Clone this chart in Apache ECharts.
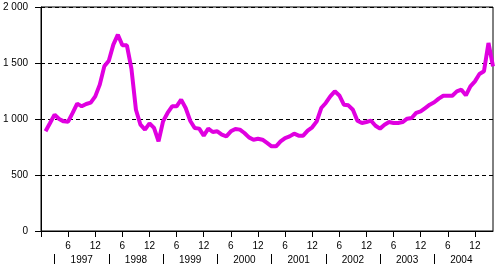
<!DOCTYPE html>
<html>
<head>
<meta charset="utf-8">
<script src="https://cdn.jsdelivr.net/npm/echarts@6/dist/echarts.min.js"></script>
<style>
html,body{margin:0;padding:0;background:#fff;}
#chart{width:495px;height:266px;}
</style>
</head>
<body>
<div id="chart"></div>
<script>
// Monthly values, Jan 1997 .. Apr 2005
const values = [
  890, 964, 1039, 1000, 979, 976, 1054, 1137, 1113, 1134, 1146, 1202,   // 1997
  1307, 1470, 1520, 1664, 1753, 1658, 1658, 1450, 1083, 949, 905, 961,   // 1998
  920, 800, 979, 1054, 1113, 1113, 1173, 1098, 985, 920, 914, 851,       // 1999
  914, 884, 890, 860, 845, 890, 911, 905, 875, 836, 815, 824,            // 2000
  815, 786, 756, 756, 800, 830, 845, 869, 851, 851, 896, 926,            // 2001
  979, 1098, 1143, 1202, 1247, 1210, 1128, 1122, 1083, 985, 964, 973,    // 2002
  985, 940, 914, 949, 973, 964, 964, 973, 1003, 1009, 1054, 1068,        // 2003
  1098, 1128, 1149, 1182, 1208, 1208, 1208, 1247, 1262, 1211, 1292, 1336, // 2004
  1402, 1426, 1679, 1470                                                  // 2005
];
const years = ['1997','1998','1999','2000','2001','2002','2003','2004'];
const monthTickLabels = ['6','12'];

const seriesData = values.map((v, i) => [i + 1, v]);
const monthTicks = [];
for (let m = 0; m <= 96; m += 6) monthTicks.push(m);
const monthLabels = monthTicks.filter(m => m > 0);
const yearSeps = years.map((y, i) => 3 + 12 * i);
const yearCenters = years.map((y, i) => 9 + 12 * i);

const font = 'Liberation Sans';
const chart = echarts.init(document.getElementById('chart'), null, {renderer: 'canvas'});
chart.setOption({
  animation: false,
  backgroundColor: '#fff',
  grid: {left: 40, right: 2, top: 7, bottom: 35, show: true, borderColor: '#000', borderWidth: 1, backgroundColor: 'transparent'},
  xAxis: [
    {
      type: 'value', min: 0, max: 100,
      axisLine: {show: true, onZero: false, lineStyle: {color: '#000', width: 1}},
      axisTick: {show: true, length: 6, customValues: monthTicks, lineStyle: {color: '#000'}},
      axisLabel: {
        show: true, customValues: monthLabels, margin: 10,
        color: '#000', fontFamily: font, fontSize: 10,
        formatter: v => monthTickLabels[(v % 12 === 0) ? 1 : 0]
      },
      splitLine: {show: false}
    },
    {
      type: 'value', min: 0, max: 100, position: 'bottom', offset: 23,
      axisLine: {show: true, onZero: false, lineStyle: {color: 'rgba(0,0,0,0)', width: 0}},
      axisTick: {show: true, length: 10, customValues: yearSeps, lineStyle: {color: '#000', width: 1}},
      axisLabel: {
        show: true, customValues: yearCenters, margin: 1,
        color: '#000', fontFamily: font, fontSize: 10,
        formatter: v => years[Math.round((v - 9) / 12)]
      },
      splitLine: {show: false}
    }
  ],
  yAxis: {
    type: 'value', min: 0, max: 2000, interval: 500,
    axisLine: {show: true, lineStyle: {color: '#000', width: 1}},
    axisTick: {show: true, length: 6, lineStyle: {color: '#000'}},
    axisLabel: {
      margin: 13, color: '#000', fontFamily: font, fontSize: 10,
      formatter: v => String(v).replace(/\B(?=(\d{3})+(?!\d))/g, ' ')
    },
    splitLine: {show: true, lineStyle: {color: '#000', type: [4, 3], width: 1}}
  },
  series: [{
    type: 'line',
    data: seriesData,
    xAxisIndex: 0,
    showSymbol: false,
    symbol: 'none',
    lineStyle: {color: '#E000E0', width: 4},
    clip: false
  }]
});
</script>
</body>
</html>
